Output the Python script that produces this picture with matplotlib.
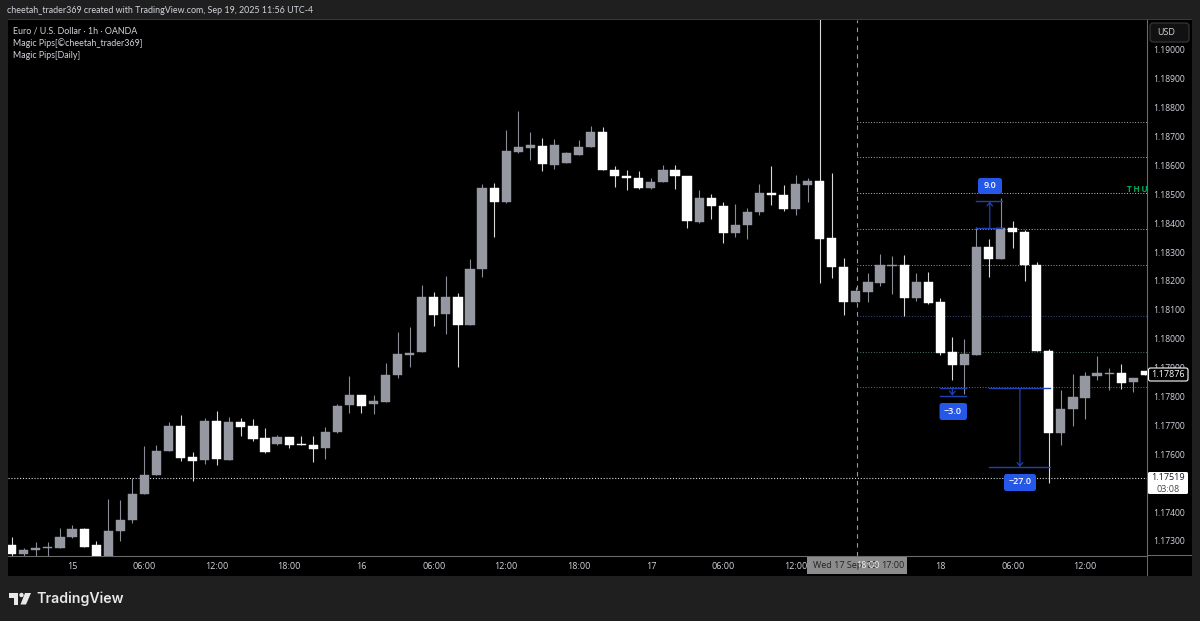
import matplotlib
matplotlib.use("Agg")
import matplotlib.pyplot as plt
from matplotlib.patches import FancyBboxPatch, Polygon, Circle, Rectangle
from matplotlib.transforms import IdentityTransform

plt.rcParams['font.family'] = ['Open Sans', 'DejaVu Sans']

# hourly candles
opens = [1.17285, 1.17255, 1.17269, 1.17275, 1.17276, 1.17314, 1.17343, 1.17285, 1.17234, 1.17334,
         1.17373, 1.17464, 1.17527, 1.17611, 1.17697, 1.17591, 1.17579, 1.17715, 1.17581, 1.17712,
         1.17697, 1.17656, 1.17635, 1.17661, 1.17636, 1.17631, 1.17622, 1.17677, 1.17770, 1.17804,
         1.17773, 1.17781, 1.17873, 1.17942, 1.17953, 1.18144, 1.18085, 1.18144, 1.18048, 1.18242,
         1.18520, 1.18473, 1.18646, 1.18661, 1.18668, 1.18601, 1.18608, 1.18637, 1.18664, 1.18714,
         1.18585, 1.18564, 1.18556, 1.18521, 1.18542, 1.18585, 1.18562, 1.18405, 1.18488, 1.18459,
         1.18365, 1.18392, 1.18438, 1.18503, 1.18498, 1.18448, 1.18532, 1.18547, 1.18347, 1.18248,
         1.18128, 1.18160, 1.18194, 1.18253, 1.18256, 1.18141, 1.18197, 1.18127, 1.17954, 1.17909,
         1.17944, 1.18317, 1.18276, 1.18383, 1.18369, 1.18255, 1.17957, 1.17674, 1.17757, 1.17795,
         1.17871, 1.17878, 1.17881, 1.17850, 1.17888]
highs = [1.17315, 1.17277, 1.17298, 1.17296, 1.17344, 1.17355, 1.17345, 1.17300, 1.17445, 1.17441,
         1.17518, 1.17629, 1.17633, 1.17712, 1.17736, 1.17608, 1.17725, 1.17749, 1.17730, 1.17725,
         1.17722, 1.17690, 1.17666, 1.17661, 1.17663, 1.17663, 1.17693, 1.17775, 1.17872, 1.17806,
         1.17804, 1.17916, 1.18022, 1.18040, 1.18186, 1.18160, 1.18216, 1.18157, 1.18275, 1.18535,
         1.18538, 1.18722, 1.18788, 1.18714, 1.18694, 1.18691, 1.18647, 1.18686, 1.18735, 1.18732,
         1.18598, 1.18584, 1.18580, 1.18555, 1.18600, 1.18602, 1.18562, 1.18515, 1.18501, 1.18472,
         1.18465, 1.18451, 1.18534, 1.18598, 1.18532, 1.18566, 1.18555, 1.19137, 1.18574, 1.18278,
         1.18180, 1.18226, 1.18292, 1.18286, 1.18288, 1.18228, 1.18231, 1.18140, 1.18006, 1.17999,
         1.18386, 1.18345, 1.18487, 1.18407, 1.18376, 1.18265, 1.17964, 1.17822, 1.17878, 1.17885,
         1.17940, 1.17899, 1.17912, 1.17864, 1.17888]
lows = [1.17249, 1.17246, 1.17246, 1.17246, 1.17275, 1.17310, 1.17278, 1.17230, 1.17220, 1.17300,
        1.17363, 1.17464, 1.17527, 1.17611, 1.17578, 1.17509, 1.17566, 1.17563, 1.17581, 1.17663,
        1.17647, 1.17603, 1.17633, 1.17622, 1.17631, 1.17574, 1.17583, 1.17675, 1.17744, 1.17744,
        1.17738, 1.17780, 1.17865, 1.17903, 1.17953, 1.18045, 1.18015, 1.17903, 1.18046, 1.18214,
        1.18353, 1.18468, 1.18641, 1.18618, 1.18581, 1.18587, 1.18607, 1.18637, 1.18664, 1.18583,
        1.18526, 1.18515, 1.18517, 1.18517, 1.18542, 1.18517, 1.18384, 1.18399, 1.18415, 1.18331,
        1.18352, 1.18346, 1.18428, 1.18463, 1.18443, 1.18428, 1.18474, 1.18194, 1.18209, 1.18082,
        1.18128, 1.18128, 1.18183, 1.18156, 1.18080, 1.18130, 1.18119, 1.17944, 1.17857, 1.17809,
        1.17944, 1.18213, 1.18276, 1.18314, 1.18200, 1.17957, 1.17501, 1.17632, 1.17698, 1.17722,
        1.17857, 1.17822, 1.17826, 1.17816, 1.17874]
closes = [1.17255, 1.17269, 1.17277, 1.17279, 1.17313, 1.17343, 1.17280, 1.17234, 1.17336, 1.17372,
          1.17463, 1.17528, 1.17612, 1.17697, 1.17588, 1.17578, 1.17715, 1.17584, 1.17712, 1.17695,
          1.17654, 1.17609, 1.17659, 1.17632, 1.17631, 1.17619, 1.17678, 1.17767, 1.17804, 1.17768,
          1.17783, 1.17874, 1.17946, 1.17951, 1.18144, 1.18082, 1.18144, 1.18048, 1.18241, 1.18520,
          1.18473, 1.18648, 1.18663, 1.18670, 1.18603, 1.18670, 1.18642, 1.18663, 1.18714, 1.18583,
          1.18562, 1.18557, 1.18521, 1.18543, 1.18585, 1.18562, 1.18407, 1.18486, 1.18458, 1.18365,
          1.18393, 1.18439, 1.18503, 1.18496, 1.18448, 1.18536, 1.18546, 1.18344, 1.18247, 1.18128,
          1.18165, 1.18195, 1.18256, 1.18256, 1.18141, 1.18197, 1.18122, 1.17950, 1.17909, 1.17947,
          1.18317, 1.18276, 1.18383, 1.18369, 1.18255, 1.17957, 1.17674, 1.17757, 1.17798, 1.17871,
          1.17881, 1.17881, 1.17847, 1.17864, 1.17876]
hours = list(range(-5, 90))   # hours after 15 Sep 00:00

# levels of the Magic Pips indicator and the last price
level_prices = [1.18751, 1.18629, 1.18504, 1.18380, 1.18255, 1.18079, 1.17955, 1.17833]
level_colors = ['#a8a8a8', '#a8a8a8', '#c4c4c4', '#a8a8a8', '#989898', '#3a4f8a', '#4c7a60', '#3f8a64']
cursor_hour = 65.1
day_line = 1.17519

price_ticks = [1.173, 1.174, 1.176, 1.177, 1.178, 1.179, 1.180, 1.181, 1.182,
               1.183, 1.184, 1.185, 1.186, 1.187, 1.188, 1.189, 1.190]
time_ticks = [0, 6, 12, 18, 24, 30, 36, 42, 48, 54, 60, 72, 78, 84]
time_labels = ['15', '06:00', '12:00', '18:00', '16', '06:00', '12:00', '18:00',
               '17', '06:00', '12:00', '18', '06:00', '12:00']

# measure tool: first hour, last hour, arrow hour, from price, to price
measure_up = (75.0, 77.1, 76.1, 1.18383, 1.18475)
measure_small = (72.0, 74.1, 73.0, 1.17831, 1.17803)
measure_big = (76.0, 81.1, 78.6, 1.17828, 1.17556)

W, H = 1200, 621
BG = '#1f1f1f'
TXT = '#d1d4dc'
BLUE = '#2558e8'
LINE_BLUE = '#1f42b0'
WHITE = '#ffffff'
GREY = '#9598a1'

fig = plt.figure(figsize=(12, 6.21), dpi=100, facecolor=BG)
PIX = IdentityTransform()


def put(x, y, s, **kw):
    kw.setdefault('color', TXT)
    kw.setdefault('fontsize', 6.5)
    kw.setdefault('va', 'center')
    return fig.text(x, H - y, s, transform=PIX, **kw)


def box(x0, y0, x1, y1, face, edge='none', round_px=0.0, z=3, lw=0.8):
    p = FancyBboxPatch((x0, H - y1), x1 - x0, y1 - y0,
                       boxstyle='round,pad=0,rounding_size=%s' % round_px,
                       fc=face, ec=edge, lw=lw, transform=PIX, zorder=z)
    fig.add_artist(p)
    return p


# black chart area
box(8, 20, 1192, 576, 'black', z=0)
fig.add_artist(Rectangle((8, H - 20), 1184, 1, fc='#3a3a3a', ec='none', transform=PIX, zorder=1))

ax = fig.add_axes([8 / W, 1 - 556 / H, (1147 - 8) / W, (556 - 20) / H], zorder=2)
ax.patch.set_alpha(0)
ax.set_xlim(-5.31, 89.14)
ax.set_ylim(1.17248, 1.19103)

# levels and crosshair behind the candles
for p, c in zip(level_prices, level_colors):
    ax.plot([cursor_hour, 89.14], [p, p], color=c, lw=0.7, ls=(0, (1, 1.8)), zorder=1)
ax.axhline(day_line, color='#d8d8d8', lw=0.8, ls=(0, (1, 1.6)), zorder=1)
ax.axvline(cursor_hour, color='#9a9a9a', lw=0.8, ls=(0, (4, 4)), zorder=1)

# candles
for h, o, hi, lo, c in zip(hours, opens, highs, lows, closes):
    col = GREY if c >= o else WHITE
    wick = '#8a8d96' if c >= o else '#d8d8d8'
    ax.vlines(h, lo, hi, color=wick, lw=0.8, zorder=2)
    ax.bar(h, abs(c - o), bottom=min(o, c), width=0.76, color=col, edgecolor=col,
           linewidth=0.3, zorder=3)

# measure tools
for first, last, mid, p0, p1 in (measure_up, measure_small, measure_big):
    ax.plot([first, last], [p0, p0], color=LINE_BLUE, lw=1, zorder=4)
    ax.plot([first, last], [p1, p1], color=LINE_BLUE, lw=1, zorder=4)
    ax.annotate('', xy=(mid, p1), xytext=(mid, p0), zorder=4,
                arrowprops=dict(arrowstyle='->,head_length=0.25,head_width=0.2',
                                color=LINE_BLUE, lw=0.9, shrinkA=0, shrinkB=0))

ax.set_xticks(time_ticks)
ax.set_xticklabels(time_labels)
ax.set_yticks(price_ticks)
ax.set_yticklabels(['%.5f' % p for p in price_ticks])
ax.yaxis.tick_right()
ax.tick_params(axis='x', length=0, pad=4.5, labelsize=6.5, colors=TXT)
ax.tick_params(axis='y', length=0, pad=4.5, labelsize=6.2, colors=TXT)
for s in ('top', 'left'):
    ax.spines[s].set_visible(False)
for s in ('right', 'bottom'):
    ax.spines[s].set_color('#6a6a6a')
    ax.spines[s].set_linewidth(0.8)
fig.add_artist(Rectangle((1147, H - 556), 45, 0.8, fc='#6a6a6a', ec='none', transform=PIX, zorder=1))
fig.add_artist(Rectangle((1147, H - 576), 0.8, 20, fc='#6a6a6a', ec='none', transform=PIX, zorder=1))

# header and legend
LATO = ['Lato', 'DejaVu Sans']
put(7, 10.5, 'cheetah_trader369 created with TradingView.com, Sep 19, 2025 11:56 UTC-4', fontsize=6.4, family=LATO)
put(13, 31, 'Euro / U.S. Dollar · 1h · OANDA', fontsize=6.4, family=LATO)
put(13, 43.5, 'Magic Pips[©cheetah_trader369]', fontsize=6.4, family=LATO)
put(13, 55.5, 'Magic Pips[Daily]', fontsize=6.4, family=LATO)

# currency button
box(1150, 23, 1189, 42, '#111111', edge='#3a3a3a', round_px=3)
put(1157, 32.5, 'USD', fontsize=6.5, zorder=4)

# THU marker
put(1148, 189, 'T\u2009H\u2009U', color='#00a85a', fontsize=6, ha='right', fontweight='bold', zorder=4)

# measure labels
box(978, 178, 1002, 194, BLUE, round_px=2.5)
put(990, 186, '9.0', color='white', fontsize=6.5, ha='center', fontweight='semibold', zorder=4)
box(939.5, 403, 967, 420, BLUE, round_px=2.5)
put(953, 411, '−3.0', color='white', fontsize=6.5, ha='center', fontweight='semibold', zorder=4)
box(1004, 474, 1036, 491, BLUE, round_px=2.5)
put(1020, 482, '−27.0', color='white', fontsize=6.5, ha='center', fontweight='semibold', zorder=4)

# price labels on the axis
box(1148.5, 368, 1188, 381, 'black', edge='white', round_px=2)
put(1168, 374.7, '1.17876', color='white', fontsize=6.5, ha='center', zorder=4)
box(1148, 472, 1188, 494, 'white', round_px=1.5)
put(1168, 478, '1.17519', color='#131722', fontsize=6.5, ha='center', zorder=4)
put(1168, 489, '03:08', color='#444444', fontsize=6.5, ha='center', zorder=4)

# cursor date on the time axis
box(807, 557, 907, 574, '#8c8c8c')
put(813, 566, "Wed 17 Sep '25", color='#222222', fontsize=6.5, zorder=4)
put(868, 566, '18:00', color='#eeeeee', fontsize=6.5, ha='center', zorder=4)
put(881, 566, '17:00', color='#222222', fontsize=6.5, zorder=5)

# TradingView logo
logo = '#e8e8e8'
fig.add_artist(Polygon([(9, H - 593), (18, H - 593), (18, H - 604.5), (13.5, H - 604.5),
                        (13.5, H - 597.5), (9, H - 597.5)], fc=logo, ec='none', transform=PIX))
fig.add_artist(Circle((21.5, H - 595), 2.2, fc=logo, ec='none', transform=PIX))
fig.add_artist(Polygon([(25, H - 593), (31, H - 593), (26, H - 604.5), (20.5, H - 604.5)],
                       fc=logo, ec='none', transform=PIX))
put(36, 598.5, 'TradingView', color=logo, fontsize=10.2, family=['Inter', 'DejaVu Sans'], fontweight='semibold')

fig.savefig('out.png', dpi=100, facecolor=BG)
